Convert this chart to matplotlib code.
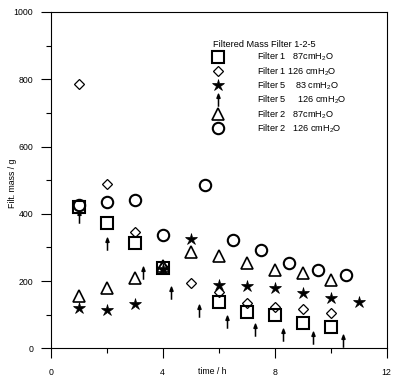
import matplotlib
matplotlib.use("Agg")
import matplotlib.pyplot as plt
from matplotlib.path import Path
from matplotlib.ticker import MultipleLocator

plt.rcParams['font.family'] = ['Liberation Sans', 'DejaVu Sans']
plt.rcParams['mathtext.fontset'] = 'custom'
plt.rcParams['mathtext.rm'] = 'Liberation Sans'
plt.rcParams['mathtext.it'] = 'Liberation Sans'

# ---- data ----
t_sq = [1, 2, 3, 4, 6, 7, 8, 9, 10]
f1_87 = [420, 372, 314, 238, 139, 109, 99, 74, 64]

t_di = [1, 2, 3, 4, 5, 6, 7, 8, 9, 10]
f1_126 = [785, 489, 347, 242, 193, 168, 134, 122, 116, 104]

t_st = [1, 2, 3, 4, 5, 6, 7, 8, 9, 10, 11]
f5_83 = [119, 114, 132, 235, 325, 188, 185, 178, 165, 151, 137]

t_ar = [1.0, 2.0, 3.3, 4.3, 5.3, 6.3, 7.3, 8.3, 9.35, 10.43]
f5_126 = [390, 310, 224, 164, 110, 78, 54, 40, 31, 21]

t_tr = [1, 2, 3, 4, 5, 6, 7, 8, 9, 10]
f2_87 = [156, 178, 208, 245, 285, 275, 253, 233, 223, 203]

t_ci = [1, 2, 3, 4, 5.5, 6.5, 7.5, 8.5, 9.55, 10.55]
f2_126 = [425, 436, 441, 337, 486, 322, 293, 253, 233, 218]

labels = ["Filter 1   87cmH$_2$O",
          "Filter 1 126 cmH$_2$O",
          "Filter 5    83 cmH$_2$O",
          "Filter 5     126 cmH$_2$O",
          "Filter 2   87cmH$_2$O",
          "Filter 2   126 cmH$_2$O"]
legend_title = "Filtered Mass Filter 1-2-5"

# arrow marker
arrow = Path([(0, -1), (0, 0.35), (-0.24, 0.35), (0.24, 0.35), (0, 1), (-0.24, 0.35)],
             [Path.MOVETO, Path.LINETO, Path.MOVETO, Path.LINETO, Path.LINETO, Path.CLOSEPOLY])

fig = plt.figure(figsize=(3.96, 3.80), dpi=100)
ax = fig.add_axes([50.7/396, 1-348.3/380, 336/396, 336.3/380])

fs = 6.3
h_sq, = ax.plot(t_sq, f1_87, ls='none', marker='s', ms=8.2, mfc='none', mec='black', mew=1.5)
h_di, = ax.plot(t_di, f1_126, ls='none', marker='D', ms=5.5, mfc='none', mec='black', mew=0.9)
h_st, = ax.plot(t_st, f5_83, ls='none', marker='*', ms=9, mfc='black', mec='black', mew=0.5)
h_ar, = ax.plot(t_ar, f5_126, ls='none', marker=arrow, ms=9, mfc='black', mec='black', mew=1.1)
h_tr, = ax.plot(t_tr, f2_87, ls='none', marker='^', ms=8, mfc='none', mec='black', mew=1.2)
h_ci, = ax.plot(t_ci, f2_126, ls='none', marker='o', ms=8.2, mfc='none', mec='black', mew=1.5)

ax.set_xlim(0, 12)
ax.set_ylim(0, 1000)
ax.xaxis.set_major_locator(MultipleLocator(4))
ax.xaxis.set_minor_locator(MultipleLocator(2))
ax.yaxis.set_major_locator(MultipleLocator(200))
ax.yaxis.set_minor_locator(MultipleLocator(100))
ax.tick_params(which='major', direction='out', length=7.5, width=0.8, labelsize=fs, pad=5)
ax.tick_params(which='minor', direction='out', length=3.6, width=0.8)
ax.tick_params(axis='x', which='major', pad=7)
for s in ax.spines.values():
    s.set_linewidth(0.8)

ax.set_xlabel("time / h", fontsize=fs)
ax.xaxis.label.set_va('center')
ax.xaxis.set_label_coords(0.4815, -0.0696)
ax.set_ylabel("Filt. mass / g", fontsize=fs)
ax.yaxis.label.set_va('center')
ax.yaxis.set_label_coords(-0.1137, 0.4915)

lfs = 6.6
leg = ax.legend([h_sq, h_di, h_st, h_ar, h_tr, h_ci], labels, title=legend_title,
                title_fontsize=lfs, fontsize=lfs, frameon=False, loc='upper left',
                bbox_to_anchor=(213/396, 1-40/380), bbox_transform=fig.transFigure,
                handlelength=1.15, handletextpad=3.7, labelspacing=0.2,
                borderpad=0, borderaxespad=0, alignment='left', numpoints=1)

fig.savefig("out.png", dpi=100)
